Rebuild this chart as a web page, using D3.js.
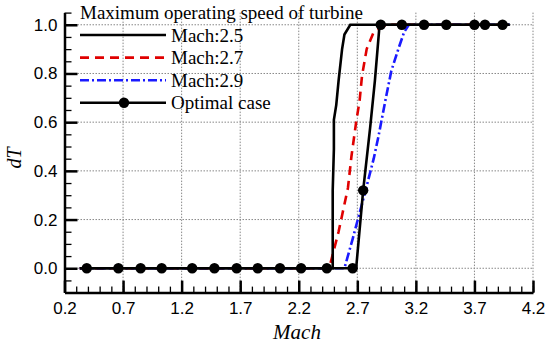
<!DOCTYPE html>
<html>
<head>
<meta charset="utf-8">
<script src="https://cdn.jsdelivr.net/npm/d3@7"></script>
<style>
  body { margin: 0; background: #fff; }
  .axis text { font-family: "Liberation Sans", Arial, sans-serif; font-size: 17px; fill: #000; }
</style>
</head>
<body>
<div id="chart"></div>
<script>
// data
let xTicks = [0.2, 0.7, 1.2, 1.7, 2.2, 2.7, 3.2, 3.7, 4.2];
let yTicks = [0.0, 0.2, 0.4, 0.6, 0.8, 1.0];

let mach25X = [0.33, 2.49, 2.49, 2.50, 2.50, 2.52, 2.54, 2.57, 2.59, 2.64, 4.0];
let mach25Y = [0, 0, 0.32, 0.49, 0.61, 0.67, 0.77, 0.90, 0.96, 1.0, 1.0];

let mach27X = [0.33, 2.46, 2.54, 2.62, 2.65, 2.69, 2.72, 2.74, 2.78, 2.84, 2.91, 2.95, 4.0];
let mach27Y = [0, 0, 0.15, 0.33, 0.46, 0.60, 0.69, 0.79, 0.90, 0.97, 0.99, 1.0, 1.0];

let mach29X = [0.33, 2.59, 2.66, 2.76, 2.84, 2.88, 2.94, 2.99, 3.05, 3.10, 3.14, 4.0];
let mach29Y = [0, 0, 0.12, 0.30, 0.45, 0.54, 0.69, 0.81, 0.90, 0.97, 1.0, 1.0];

let optLineX = [0.33, 2.69, 2.75, 2.81, 2.85, 2.89, 4.0];
let optLineY = [0, 0, 0.32, 0.58, 0.77, 1.0, 1.0];

let optMarkX = [0.39, 0.66, 0.85, 1.03, 1.29, 1.48, 1.67, 1.85, 2.04, 2.22, 2.44, 2.66,
                2.75, 2.90, 3.08, 3.27, 3.46, 3.70, 3.79, 3.94];
let optMarkY = [0, 0, 0, 0, 0, 0, 0, 0, 0, 0, 0, 0,
                0.32, 1, 1, 1, 1, 1, 1, 1];

let w = 550; let h = 344;

let svg = d3.select("#chart").append("svg")
  .attr("width", w).attr("height", h);

let x = d3.scaleLinear().domain([0.2, 4.2]).range([64.5, 533]);
let y = d3.scaleLinear().domain([-0.1, 1.05]).range([292.6, 12.6]);

//grid
svg.append("g").selectAll("line").data(xTicks.slice(1)).enter().append("line")
  .attr("x1", d => x(d)).attr("x2", d => x(d))
  .attr("y1", y(1.05)).attr("y2", y(-0.1))
  .attr("stroke", "#888").attr("stroke-width", 1).attr("stroke-dasharray", "1.5,1.5");

svg.append("g").selectAll("line").data(yTicks).enter().append("line")
  .attr("x1", x(0.2) + 13).attr("x2", x(4.2))
  .attr("y1", d => y(d)).attr("y2", d => y(d))
  .attr("stroke", "#888").attr("stroke-width", 1).attr("stroke-dasharray", "1.5,1.5");

//axes
let minorX = d3.range(0.2, 4.21, 0.1);
let minorY = d3.range(-0.05, 1.06, 0.05);

svg.append("g").attr("class", "axis")
  .attr("transform", "translate(0," + y(-0.1) + ")")
  .call(d3.axisBottom(x).tickValues(minorX).tickSize(-6).tickSizeOuter(0).tickFormat(""))
  .call(g => g.selectAll(".tick line").attr("stroke", "#000").attr("stroke-width", 1.3))
  .call(g => g.select(".domain").remove());

svg.append("g").attr("class", "axis")
  .attr("transform", "translate(" + x(0.2) + ",0)")
  .call(d3.axisLeft(y).tickValues(minorY).tickSize(-7).tickSizeOuter(0).tickFormat(""))
  .call(g => g.selectAll(".tick line").attr("stroke", "#000").attr("stroke-width", 1.3))
  .call(g => g.select(".domain").remove());

svg.append("g").attr("class", "axis")
  .attr("transform", "translate(0," + y(-0.1) + ")")
  .call(d3.axisBottom(x).tickValues(xTicks).tickSize(-12).tickSizeOuter(0)
    .tickPadding(9).tickFormat(d3.format(".1f")))
  .call(g => g.selectAll(".tick line").attr("stroke", "#000").attr("stroke-width", 2.5))
  .call(g => g.select(".domain").attr("stroke", "#000").attr("stroke-width", 2.5));

svg.append("g").attr("class", "axis")
  .attr("transform", "translate(" + x(0.2) + ",0)")
  .call(d3.axisLeft(y).tickValues(yTicks).tickSize(-13).tickSizeOuter(0)
    .tickFormat(d3.format(".1f")))
  .call(g => g.selectAll(".tick line").attr("stroke", "#000").attr("stroke-width", 2.5))
  .call(g => g.selectAll(".tick text").attr("x", -7))
  .call(g => g.select(".domain").attr("stroke", "#000").attr("stroke-width", 2.5));

//axis labels
svg.append("text")
  .attr("x", 297).attr("y", 339)
  .attr("text-anchor", "middle")
  .attr("font-family", "Liberation Serif, Times New Roman, serif")
  .attr("font-style", "italic")
  .attr("font-size", "21px")
  .text("Mach");

svg.append("text")
  .attr("transform", "translate(21,158) rotate(-90)")
  .attr("text-anchor", "middle")
  .attr("font-family", "Liberation Serif, Times New Roman, serif")
  .attr("font-style", "italic")
  .attr("font-size", "20px")
  .text("dT");

//curves
let series = [
  {name: "Mach:2.5", xs: mach25X, ys: mach25Y, color: "#000", dash: null},
  {name: "Mach:2.7", xs: mach27X, ys: mach27Y, color: "#e00000", dash: "9,6"},
  {name: "Mach:2.9", xs: mach29X, ys: mach29Y, color: "#1a1aff", dash: "9,3,2,3"},
  {name: "Optimal case", xs: optLineX, ys: optLineY, color: "#000", dash: null}
];

let line = d3.line().x(d => x(d[0])).y(d => y(d[1]));

let drawOrder = [1, 2, 0, 3];
drawOrder.forEach(i => {
  let s = series[i];
  svg.append("path")
    .datum(s.xs.map((v, k) => [v, s.ys[k]]))
    .attr("d", line)
    .attr("fill", "none")
    .attr("stroke", s.color)
    .attr("stroke-width", 2.6)
    .attr("stroke-dasharray", s.dash);
});

svg.append("g").selectAll("circle")
  .data(optMarkX.map((v, k) => [v, optMarkY[k]]))
  .enter().append("circle")
  .attr("cx", d => x(d[0])).attr("cy", d => y(d[1]))
  .attr("r", 5.2)
  .attr("fill", "#000");

//legend
let legend = svg.append("g")
  .attr("font-family", "Liberation Serif, Times New Roman, serif")
  .attr("font-size", "19px");

legend.append("text")
  .attr("x", 80).attr("y", 19)
  .text("Maximum operating speed of turbine");

series.forEach((s, i) => {
  let ly = 35 + i * 22.6;
  legend.append("line")
    .attr("x1", 80).attr("x2", 166)
    .attr("y1", ly).attr("y2", ly)
    .attr("stroke", s.color)
    .attr("stroke-width", 2.6)
    .attr("stroke-dasharray", s.dash);
  if (s.name == "Optimal case") {
    legend.append("circle")
      .attr("cx", 124).attr("cy", ly).attr("r", 5.2).attr("fill", "#000");
  }
  legend.append("text")
    .attr("x", 171).attr("y", ly + 6.5)
    .text(s.name);
});
</script>
</body>
</html>
